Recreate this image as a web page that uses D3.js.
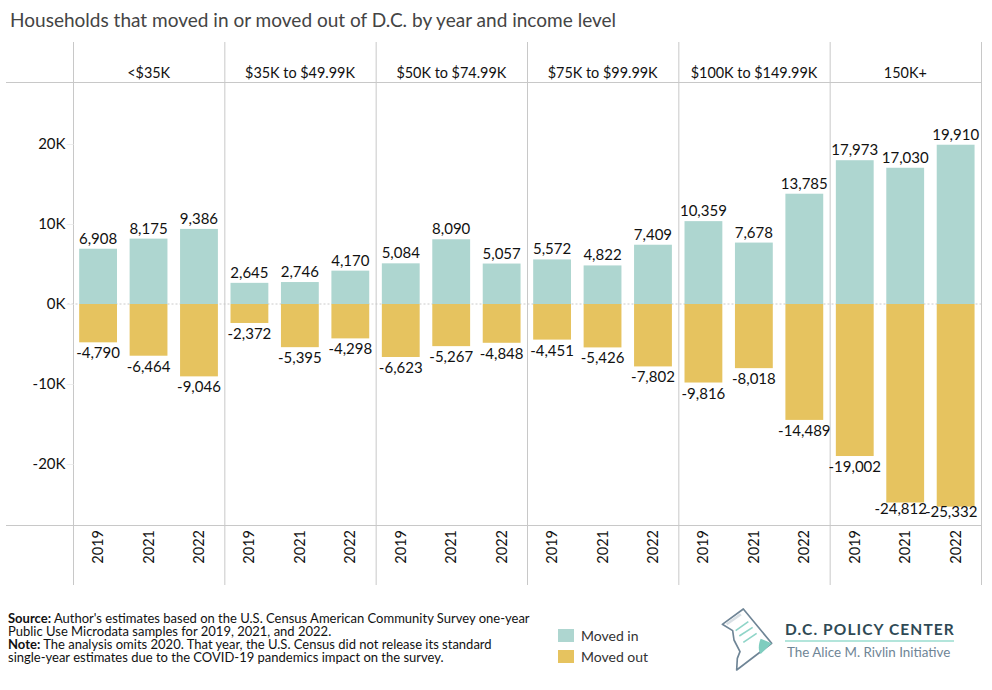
<!DOCTYPE html>
<html>
<head>
<meta charset="utf-8">
<script src="https://cdn.jsdelivr.net/npm/d3@7"></script>
<style>
    html, body { margin: 0; padding: 0; background: #fff; }
    svg { display: block; }
    text { font-family: Lato, "Open Sans", sans-serif; }
</style>
</head>
<body>
<div id="chart"></div>
<script>
const incomes = ["<$35K", "$35K to $49.99K", "$50K to $74.99K", "$75K to $99.99K", "$100K to $149.99K", "150K+"];
const years = ["2019", "2021", "2022"];
const movedIn = [
    [6908, 8175, 9386],
    [2645, 2746, 4170],
    [5084, 8090, 5057],
    [5572, 4822, 7409],
    [10359, 7678, 13785],
    [17973, 17030, 19910]
];
const movedOut = [
    [-4790, -6464, -9046],
    [-2372, -5395, -4298],
    [-6623, -5267, -4848],
    [-4451, -5426, -7802],
    [-9816, -8018, -14489],
    [-19002, -24812, -25332]
];
const yTicks = [-20000, -10000, 0, 10000, 20000];
const legendLabels = ["Moved in", "Moved out"];
const inColor = "#aed6d0";
const outColor = "#e6c35f";
const ruleColor = "#c8c8c8";

const w = 992;
const h = 690;
const headerY = 82.5;
const footerY = 525.5;
const left = 73.5;
const right = 981.5;

const svg = d3.select("#chart").append("svg")
    .attr("width", w)
    .attr("height", h);

svg.append("text")
    .attr("x", 10)
    .attr("y", 27)
    .attr("fill", "#444")
    .style("font-size", "19.05px")
    .text("Households that moved in or moved out of D.C. by year and income level");

const x0 = d3.scaleBand().domain(incomes).range([left, right]);
const x1 = d3.scaleBand().domain(years).range([0, x0.bandwidth()])
    .paddingInner(0.25).paddingOuter(0.125).align(0.45);
const y = d3.scaleLinear().domain([-20000, 20000]).range([464, 144]);

// frame rules
svg.selectAll(".vrule")
    .data(incomes.map(d => x0(d)).concat(right))
    .enter()
    .append("line")
    .attr("class", "vrule")
    .attr("x1", d => d)
    .attr("x2", d => d)
    .attr("y1", 42)
    .attr("y2", 585)
    .attr("stroke", ruleColor);

svg.selectAll(".hrule")
    .data([headerY, footerY])
    .enter()
    .append("line")
    .attr("class", "hrule")
    .attr("x1", 6)
    .attr("x2", right)
    .attr("y1", d => d)
    .attr("y2", d => d)
    .attr("stroke", ruleColor);

// y axis
const yAxis = d3.axisLeft(y)
    .tickValues(yTicks)
    .tickSize(7)
    .tickPadding(1)
    .tickFormat(d => `${d / 1000}K`);

const yG = svg.append("g")
    .attr("transform", `translate(${left}, 0)`)
    .call(yAxis);
yG.select(".domain").remove();
yG.selectAll(".tick line").attr("stroke", "#eeeeee");
yG.selectAll(".tick text")
    .attr("fill", "#111")
    .style("font-family", "Lato, sans-serif")
    .style("font-size", "15px");

// panels
const panels = svg.selectAll(".panel")
    .data(incomes)
    .enter()
    .append("g")
    .attr("class", "panel")
    .attr("transform", d => `translate(${x0(d)}, 0)`);

panels.append("text")
    .attr("x", x0.bandwidth() / 2 - 0.5)
    .attr("y", 78)
    .attr("text-anchor", "middle")
    .attr("fill", "#111")
    .style("font-size", "14.4px")
    .text(d => d);

// the two deepest labels get pushed up and left against the bottom rule
const outLabelY = d => {
    if (d < -25000) return y(d) + 10;
    if (d < -24000) return y(d) + 12;
    return y(d) + 16;
};
const outLabelShift = d => (d < -24000 ? -4.5 : 0);

panels.each(function (income, i) {
    const g = d3.select(this);

    g.selectAll(".in")
        .data(movedIn[i])
        .enter()
        .append("rect")
        .attr("class", "in")
        .attr("x", (d, j) => x1(years[j]))
        .attr("y", d => y(d))
        .attr("width", x1.bandwidth())
        .attr("height", d => y(0) - y(d))
        .attr("fill", inColor);

    g.selectAll(".out")
        .data(movedOut[i])
        .enter()
        .append("rect")
        .attr("class", "out")
        .attr("x", (d, j) => x1(years[j]))
        .attr("y", y(0))
        .attr("width", x1.bandwidth())
        .attr("height", d => y(d) - y(0))
        .attr("fill", outColor);

    g.selectAll(".in-label")
        .data(movedIn[i])
        .enter()
        .append("text")
        .attr("class", "in-label")
        .attr("x", (d, j) => x1(years[j]) + x1.bandwidth() / 2)
        .attr("y", d => y(d) - 5)
        .attr("text-anchor", "middle")
        .attr("fill", "#111")
        .style("font-size", "15px")
        .text(d => d3.format(",")(d));

    g.selectAll(".out-label")
        .data(movedOut[i])
        .enter()
        .append("text")
        .attr("class", "out-label")
        .attr("x", (d, j) => x1(years[j]) + x1.bandwidth() / 2 + outLabelShift(d))
        .attr("y", d => outLabelY(d))
        .attr("text-anchor", "middle")
        .attr("fill", "#111")
        .style("font-size", "15px")
        .text(d => d3.format(",")(d).replace("−", "-"));

    g.selectAll(".year")
        .data(years)
        .enter()
        .append("text")
        .attr("class", "year")
        .attr("transform", d => `translate(${x1(d) + x1.bandwidth() / 2 + 5}, 530) rotate(-90)`)
        .attr("text-anchor", "end")
        .attr("fill", "#111")
        .style("font-size", "14.5px")
        .text(d => d);
});

// zero line goes behind the bars, shows in the gaps
svg.append("line")
    .attr("x1", left - 6)
    .attr("x2", right)
    .attr("y1", y(0))
    .attr("y2", y(0))
    .attr("stroke", "#bdbdbd")
    .attr("stroke-width", 0.8)
    .attr("stroke-dasharray", "2,2")
    .lower();

// source note
const notes = [
    ["Source:", " Author's estimates based on the U.S. Census American Community Survey one-year"],
    ["", "Public Use Microdata samples for 2019, 2021, and 2022."],
    ["Note:", " The analysis omits 2020. That year, the U.S. Census did not release its standard"],
    ["", "single-year estimates due to the COVID-19 pandemics impact on the survey."]
];
const noteText = svg.selectAll(".note")
    .data(notes)
    .enter()
    .append("text")
    .attr("class", "note")
    .attr("x", 8)
    .attr("y", (d, i) => 623 + i * 13)
    .attr("fill", "#111")
    .style("font-size", "13px")
    .style("white-space", "pre");
noteText.append("tspan").style("font-weight", 700).text(d => d[0]);
noteText.append("tspan").text(d => d[1]);

// legend
const legend = svg.selectAll(".legend")
    .data(legendLabels)
    .enter()
    .append("g")
    .attr("class", "legend")
    .attr("transform", (d, i) => `translate(558, ${629 + i * 21})`);
legend.append("rect")
    .attr("width", 16)
    .attr("height", 13)
    .attr("fill", (d, i) => (i === 0 ? inColor : outColor));
legend.append("text")
    .attr("x", 23)
    .attr("y", 12)
    .attr("fill", "#333")
    .style("font-size", "14px")
    .text(d => d);

// logo
const logo = svg.append("g").attr("transform", "translate(690, 590) scale(0.3333)");
logo.append("path")
    .attr("d", "M160,57 L245,160 L140,240 L142,205 L150,185 L132,150 L128,122 L97,103 Z")
    .attr("fill", "#fff")
    .attr("stroke", "#6f8596")
    .attr("stroke-width", 5)
    .attr("stroke-linejoin", "round");
logo.append("path")
    .attr("d", "M150,70 L108,100 L112,106 L155,76 Z")
    .attr("fill", "#d9e0e5");
logo.append("path")
    .attr("d", "M245,160 L212,146 C204,165 205,185 212,192 Z")
    .attr("fill", "#7fcdbf");
logo.selectAll(".logo-line")
    .data([[137, 122, 175, 95], [148, 138, 188, 112], [160, 157, 200, 130]])
    .enter()
    .append("line")
    .attr("class", "logo-line")
    .attr("x1", d => d[0])
    .attr("y1", d => d[1])
    .attr("x2", d => d[2])
    .attr("y2", d => d[3])
    .attr("stroke", "#8fd5c8")
    .attr("stroke-width", 5);

svg.append("text")
    .attr("x", 785)
    .attr("y", 635)
    .attr("fill", "#2f4a55")
    .style("font-size", "15.5px")
    .style("font-weight", 700)
    .style("letter-spacing", "1.1px")
    .text("D.C. POLICY CENTER");
svg.append("line")
    .attr("x1", 785)
    .attr("x2", 954)
    .attr("y1", 641)
    .attr("y2", 641)
    .attr("stroke", "#9adccf")
    .attr("stroke-width", 1.5);
svg.append("text")
    .attr("x", 787)
    .attr("y", 657)
    .attr("fill", "#6f8596")
    .style("font-size", "13.4px")
    .text("The Alice M. Rivlin Initiative");
</script>
</body>
</html>
